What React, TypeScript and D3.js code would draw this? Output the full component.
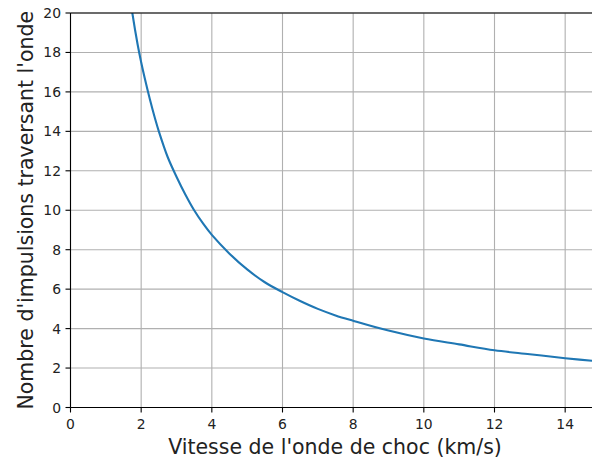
import React from "react";
import * as d3 from "d3";

const speeds = [1.5, 1.6, 1.75, 1.9, 2, 2.1, 2.25, 2.4, 2.5, 2.75, 3, 3.25, 3.5, 3.75, 4, 4.5, 5, 5.5, 6, 6.5, 7, 7.5, 8, 9, 10, 11, 12, 13, 14, 15];
const pulses = [23.3, 21.9, 20, 18.4, 17.5, 16.7, 15.6, 14.6, 14, 12.7, 11.7, 10.8, 10, 9.33, 8.75, 7.8, 7, 6.35, 5.85, 5.4, 5, 4.67, 4.4, 3.9, 3.5, 3.2, 2.9, 2.7, 2.5, 2.33];
const xTicks = [0, 2, 4, 6, 8, 10, 12, 14];
const yTicks = [0, 2, 4, 6, 8, 10, 12, 14, 16, 18, 20];

export default function App() {
  const W = 592, H = 462;
  const left = 70.5, top = 13, bottom = 407.5, right = 600.5;
  const x = d3.scaleLinear().domain([0, 15]).range([left, right]);
  const y = d3.scaleLinear().domain([0, 20]).range([bottom, top]);
  const pts = speeds.map((s, i) => [s, pulses[i]] as [number, number]);
  const line = d3.line<[number, number]>().x(d => x(d[0])).y(d => y(d[1])).curve(d3.curveCatmullRom.alpha(0.5));
  const font = "DejaVu Sans, sans-serif";
  return (
    <svg width={W} height={H} style={{ position: "absolute", left: 0, top: 0, background: "#fff" }}>
      <defs>
        <clipPath id="plot">
          <rect x={left} y={top} width={right - left} height={bottom - top} />
        </clipPath>
      </defs>
      {xTicks.map(t => (
        <line key={"gx" + t} x1={x(t)} x2={x(t)} y1={top} y2={bottom} stroke="#b0b0b0" strokeWidth={1.1} />
      ))}
      {yTicks.map(t => (
        <line key={"gy" + t} x1={left} x2={right} y1={y(t)} y2={y(t)} stroke="#b0b0b0" strokeWidth={1.1} />
      ))}
      <path d={line(pts) || ""} fill="none" stroke="#1f77b4" strokeWidth={2.1} clipPath="url(#plot)" />
      <line x1={left} x2={left} y1={top} y2={bottom} stroke="#000" strokeWidth={1.1} />
      <line x1={left} x2={right} y1={bottom} y2={bottom} stroke="#000" strokeWidth={1.1} />
      <line x1={left} x2={right} y1={top} y2={top} stroke="#000" strokeWidth={1.1} />
      {xTicks.map(t => (
        <g key={"tx" + t}>
          <line x1={x(t)} x2={x(t)} y1={bottom} y2={bottom + 5} stroke="#000" strokeWidth={1.1} />
          <text x={x(t)} y={bottom + 21.5} textAnchor="middle" fontFamily={font} fontSize={13.9} fill="#222">{t}</text>
        </g>
      ))}
      {yTicks.map(t => (
        <g key={"ty" + t}>
          <line x1={left - 5} x2={left} y1={y(t)} y2={y(t)} stroke="#000" strokeWidth={1.1} />
          <text x={left - 9.5} y={y(t)} dy="0.36em" textAnchor="end" fontFamily={font} fontSize={13.9} fill="#222">{t}</text>
        </g>
      ))}
      <text x={335} y={454} textAnchor="middle" fontFamily={font} fontSize={20.5} fill="#222">Vitesse de l'onde de choc (km/s)</text>
      <text transform={`translate(33, ${(top + bottom) / 2}) rotate(-90)`} textAnchor="middle" fontFamily={font} fontSize={20.5} fill="#222">Nombre d'impulsions traversant l'onde</text>
    </svg>
  );
}
